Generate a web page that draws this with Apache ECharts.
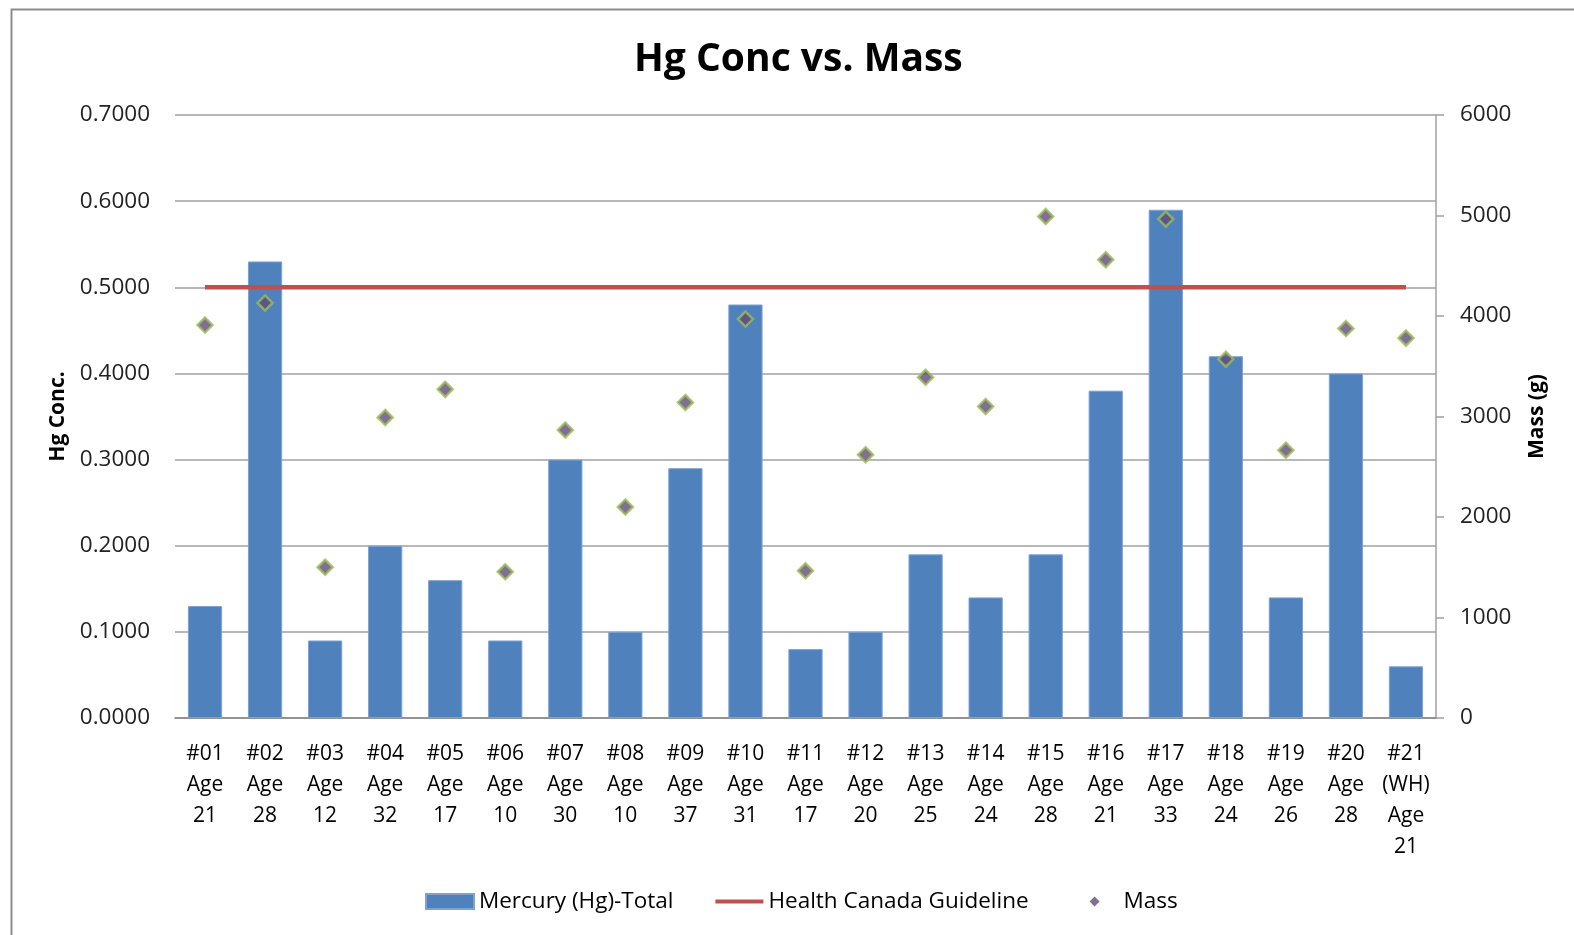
<!DOCTYPE html>
<html lang="en">
<head>
    <meta charset="UTF-8">
    <title>Hg Conc vs. Mass</title>
    <script type="text/javascript" src="https://cdn.jsdelivr.net/npm/echarts@6/dist/echarts.min.js"></script>
    <style>
        html, body { margin: 0; padding: 0; background: #fff; }
    </style>
</head>
<body>
<div id="main" style="width:1574px;height:935px;"></div>

<script type="text/javascript">
    // sample labels (id / age)
    var samples = ['#01\nAge\n21', '#02\nAge\n28', '#03\nAge\n12', '#04\nAge\n32', '#05\nAge\n17',
        '#06\nAge\n10', '#07\nAge\n30', '#08\nAge\n10', '#09\nAge\n37', '#10\nAge\n31',
        '#11\nAge\n17', '#12\nAge\n20', '#13\nAge\n25', '#14\nAge\n24', '#15\nAge\n28',
        '#16\nAge\n21', '#17\nAge\n33', '#18\nAge\n24', '#19\nAge\n26', '#20\nAge\n28',
        '#21\n(WH)\nAge\n21'];

    // Mercury (Hg)-Total
    var hgConc = [0.13, 0.53, 0.09, 0.20, 0.16, 0.09, 0.30, 0.10, 0.29, 0.48,
        0.08, 0.10, 0.19, 0.14, 0.19, 0.38, 0.59, 0.42, 0.14, 0.40, 0.06];

    // Mass (g)
    var mass = [3910, 4130, 1500, 2990, 3270, 1455, 2865, 2100, 3140, 3970,
        1465, 2620, 3390, 3100, 4990, 4560, 4965, 3570, 2665, 3875, 3780];

    // Health Canada guideline
    var guideline = 0.5;
    var guideData = [];
    for (var i = 0; i < samples.length; i++) {
        guideData.push(guideline);
    }

    var font = '"Open Sans", "DejaVu Sans", sans-serif';
    var chart = echarts.init(document.getElementById('main'));

    var option = {
        animation: false,
        textStyle: { fontFamily: font },
        title: {
            text: 'Hg Conc vs. Mass',
            left: 629,
            top: 35,
            textStyle: { fontSize: 39, fontWeight: 'bold', color: '#000', fontFamily: font }
        },
        graphic: [{
            type: 'rect',
            left: 9,
            top: 7,
            shape: { width: 1600, height: 1000 },
            style: { fill: 'none', stroke: '#8c8c8c', lineWidth: 2 },
            silent: true
        }],
        legend: {
            bottom: 17,
            left: 420,
            itemWidth: 48,
            itemHeight: 15,
            itemGap: 42,
            textStyle: { fontSize: 22.5, color: '#000', fontFamily: font },
            data: [
                { name: 'Mercury (Hg)-Total', icon: 'rect' },
                { name: 'Health Canada Guideline', icon: 'path://M0,0 M0,5.5 L48,5.5 L48,9.5 L0,9.5 Z M48,15' },
                { name: 'Mass', icon: 'path://M0,0 M24,2.5 L29,7.5 L24,12.5 L19,7.5 Z M48,15', itemStyle: { borderWidth: 0 } }
            ]
        },
        grid: {
            left: 175,
            right: 138,
            top: 115,
            bottom: 217
        },
        xAxis: {
            type: 'category',
            data: samples,
            axisLine: { lineStyle: { color: '#868686', width: 1.5 } },
            axisTick: { show: false },
            axisLabel: {
                interval: 0,
                margin: 21,
                fontSize: 21,
                lineHeight: 31,
                color: '#000',
                fontFamily: font
            }
        },
        yAxis: [{
            type: 'value',
            name: 'Hg Conc.',
            nameLocation: 'middle',
            nameGap: 106,
            nameRotate: 90,
            nameTextStyle: { fontSize: 21, fontWeight: 'bold', color: '#000', fontFamily: font },
            min: 0,
            max: 0.7,
            interval: 0.1,
            axisLine: { show: false },
            axisTick: { show: false },
            axisLabel: {
                margin: 25,
                fontSize: 22.5,
                color: '#222',
                fontFamily: font,
                formatter: function (v) { return v.toFixed(4); }
            },
            splitLine: { lineStyle: { color: '#a0a0a0', width: 1.5 } }
        }, {
            type: 'value',
            name: 'Mass (g)',
            nameLocation: 'middle',
            nameGap: 91,
            nameRotate: 90,
            nameTextStyle: { fontSize: 21, fontWeight: 'bold', color: '#000', fontFamily: font },
            min: 0,
            max: 6000,
            interval: 1000,
            position: 'right',
            axisLine: { show: true, lineStyle: { color: '#a0a0a0', width: 1.5 } },
            axisTick: { show: true, inside: false, length: 8, lineStyle: { color: '#a0a0a0', width: 1.5 } },
            axisLabel: {
                margin: 24,
                fontSize: 22.5,
                color: '#222',
                fontFamily: font,
                formatter: function (v) { return String(v); }
            },
            splitLine: { show: false }
        }],
        series: [{
            name: 'Mercury (Hg)-Total',
            type: 'bar',
            yAxisIndex: 0,
            data: hgConc,
            barCategoryGap: '43%',
            itemStyle: { color: '#4f81bd', borderColor: '#7ea3d3', borderWidth: 1 }
        }, {
            name: 'Health Canada Guideline',
            type: 'line',
            yAxisIndex: 0,
            data: guideData,
            symbol: 'none',
            lineStyle: { color: '#c0504d', width: 4.5 },
            itemStyle: { color: '#c0504d' }
        }, {
            name: 'Mass',
            type: 'scatter',
            yAxisIndex: 1,
            data: mass,
            symbol: 'diamond',
            symbolSize: 15,
            itemStyle: { color: '#604a7b', borderColor: '#9bbb59', borderWidth: 2.5 }
        }]
    };

    chart.setOption(option);
</script>
</body>
</html>
